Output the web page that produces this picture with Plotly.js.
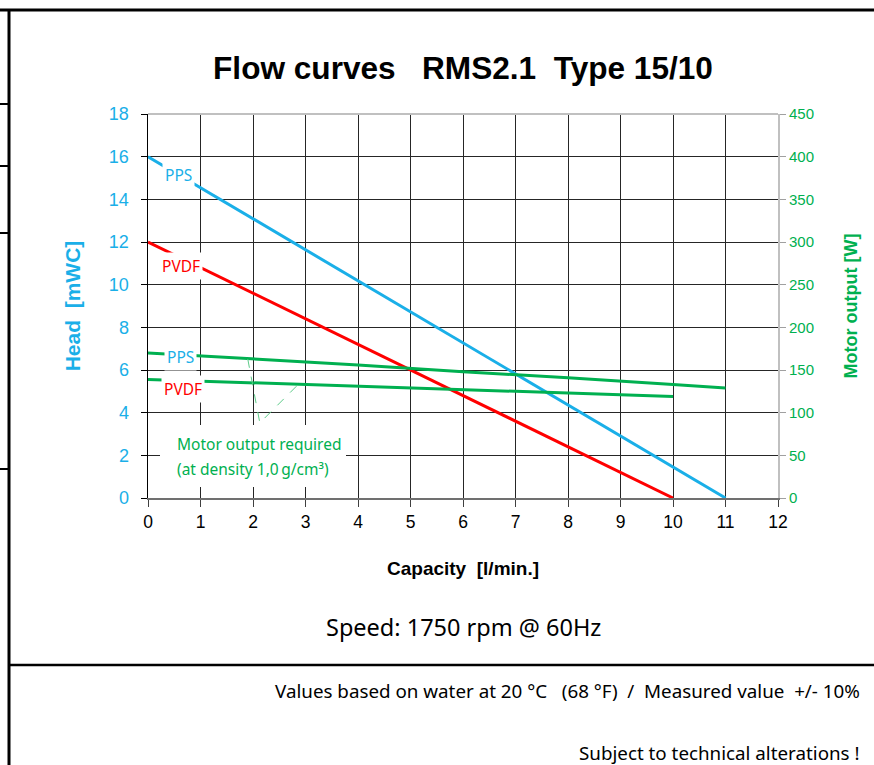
<!DOCTYPE html>
<html>
<head>
<meta charset="utf-8">
<script src="https://cdn.plot.ly/plotly-3.0.1.min.js"></script>
<style>html,body{margin:0;padding:0;background:#fff;}#chart{width:874px;height:765px;}</style>
</head>
<body>
<div id="chart"></div>
<script>
// ---- data ----
const capHeadPPS = [0, 11];
const headPPS = [16, 0];
const capHeadPVDF = [0, 10];
const headPVDF = [12, 0];
const capMotorPPS = [0, 2, 4, 6, 8, 10, 11];
const motorPPS = [170, 163, 156, 148, 141, 133, 129];
const capMotorPVDF = [0, 2, 4, 6, 8, 10];
const motorPVDF = [139, 135, 131, 127, 123, 119];
const pointerCap = [1.9, 2.13, 2.86];
const pointerMotor = [163, 88, 133];
const xTicks = [0,1,2,3,4,5,6,7,8,9,10,11,12];
const yTicks = [0,2,4,6,8,10,12,14,16,18];
const y2Ticks = [0,50,100,150,200,250,300,350,400,450];

const BLUE = '#1AAFE8', RED = '#FF0000', GREEN = '#00B050';
const ARIAL = 'Liberation Sans, Arial, sans-serif';
const CAL = 'Noto Sans, Open Sans, sans-serif';

// pixel -> paper helpers (plot area 148..778 x, 114..498 y)
const L = 148, R = 96, T = 114, B = 267, W = 874, H = 765;
const PW = W - L - R, PH = H - T - B;
const px = x => (x - L) / PW;
const py = y => (H - B - y) / PH;

const traces = [
  {x: capHeadPPS, y: headPPS, mode: 'lines', line: {color: BLUE, width: 3}, hoverinfo: 'skip', name: 'PPS head'},
  {x: capHeadPVDF, y: headPVDF, mode: 'lines', line: {color: RED, width: 3}, hoverinfo: 'skip', name: 'PVDF head'},
  {x: capMotorPPS, y: motorPPS, yaxis: 'y2', mode: 'lines', line: {color: GREEN, width: 3}, hoverinfo: 'skip', name: 'PPS motor'},
  {x: capMotorPVDF, y: motorPVDF, yaxis: 'y2', mode: 'lines', line: {color: GREEN, width: 3}, hoverinfo: 'skip', name: 'PVDF motor'},
  {x: pointerCap, y: pointerMotor, yaxis: 'y2', mode: 'lines', line: {color: '#5CCB88', width: 1, dash: 'dash'}, hoverinfo: 'skip', name: 'pointer'}
];

const border = {type: 'line', xref: 'paper', yref: 'paper', layer: 'above'};
const shapes = [
  Object.assign({}, border, {x0: px(0), x1: px(874), y0: py(10), y1: py(10), line: {color: '#000', width: 3}}),
  Object.assign({}, border, {x0: px(9), x1: px(9), y0: py(9), y1: py(766), line: {color: '#000', width: 3}}),
  Object.assign({}, border, {x0: px(0), x1: px(9), y0: py(104), y1: py(104), line: {color: '#000', width: 2}}),
  Object.assign({}, border, {x0: px(0), x1: px(9), y0: py(166), y1: py(166), line: {color: '#000', width: 2}}),
  Object.assign({}, border, {x0: px(0), x1: px(9), y0: py(233), y1: py(233), line: {color: '#000', width: 2}}),
  Object.assign({}, border, {x0: px(0), x1: px(9), y0: py(469), y1: py(469), line: {color: '#000', width: 2}}),
  Object.assign({}, border, {x0: px(9), x1: px(874), y0: py(665), y1: py(665), line: {color: '#000', width: 2.5}}),
  // light grey top frame of the plot area
  Object.assign({}, border, {x0: 0, x1: 1, y0: 1, y1: 1, line: {color: '#C0C0C0', width: 2}}),
  // white text box behind the note
  {type: 'rect', xref: 'paper', yref: 'paper', layer: 'above', x0: px(160), x1: px(346), y0: py(487), y1: py(425),
   fillcolor: '#fff', line: {width: 0}}
];

const lab = (text, x, y, color) => ({text: text, x: x, y: y, xref: 'x', yref: 'y', showarrow: false,
  font: {family: CAL, size: 15.5, color: color}, bgcolor: '#fff', borderpad: 2, xanchor: 'center', yanchor: 'middle'});

const annotations = [
  lab('PPS', 0.59, 15.15, BLUE),
  lab('PVDF', 0.63, 10.88, RED),
  lab('PPS', 0.62, 6.62, BLUE),
  lab('PVDF', 0.66, 5.12, RED),
  {text: 'Motor output required', x: px(175), y: py(444), xref: 'paper', yref: 'paper', showarrow: false,
   xanchor: 'left', yanchor: 'middle', font: {family: CAL, size: 15.5, color: GREEN}},
  {text: '(at density 1,0\u2009g/cm³)', x: px(175), y: py(469), xref: 'paper', yref: 'paper', showarrow: false,
   xanchor: 'left', yanchor: 'middle', font: {family: CAL, size: 15.5, color: GREEN}},
  {text: 'Speed: 1750 rpm @ 60Hz', x: px(463), y: py(627), xref: 'paper', yref: 'paper', showarrow: false,
   xanchor: 'center', yanchor: 'middle', font: {family: CAL, size: 23.5, color: '#000'}},
  {text: 'Values based on water at 20 °C   (68 °F)  /  Measured value  +/- 10%', x: px(862), y: py(691),
   xref: 'paper', yref: 'paper', showarrow: false, xanchor: 'right', yanchor: 'middle',
   font: {family: CAL, size: 18.8, color: '#000'}},
  {text: 'Subject to technical alterations !', x: px(862), y: py(753),
   xref: 'paper', yref: 'paper', showarrow: false, xanchor: 'right', yanchor: 'middle',
   font: {family: CAL, size: 18.8, color: '#000'}}
];

const layout = {
  width: W, height: H,
  margin: {l: L, r: R, t: T, b: B, pad: 0},
  paper_bgcolor: '#fff', plot_bgcolor: '#fff',
  showlegend: false,
  title: {text: '<b>Flow curves   RMS2.1  Type 15/10</b>', font: {family: ARIAL, size: 31.6, color: '#000'},
          x: 0.5, xref: 'paper', y: 1 - 68 / H, yref: 'container', xanchor: 'center', yanchor: 'middle'},
  xaxis: {range: [0, 12], tickvals: xTicks, ticktext: xTicks.map(String), showgrid: true, gridcolor: '#262626', gridwidth: 1,
          showline: true, linecolor: '#707070', linewidth: 2, ticks: 'outside', ticklen: 7, tickcolor: '#404040',
          tickfont: {family: ARIAL, size: 17.5, color: '#000'}, zeroline: false, fixedrange: true,
          title: {text: '<b>Capacity  [l/min.]</b>', font: {family: ARIAL, size: 19, color: '#000'}, standoff: 31}},
  yaxis: {range: [0, 18], tickvals: yTicks, ticktext: yTicks.map(String), showgrid: true, gridcolor: '#262626', gridwidth: 1,
          showline: true, linecolor: '#000', linewidth: 1.5, ticks: 'outside', ticklen: 6, tickcolor: '#000',
          ticklabelstandoff: 8,
          tickfont: {family: ARIAL, size: 18, color: BLUE}, zeroline: false, fixedrange: true,
          title: {text: '<b>Head  [mWC]</b>', font: {family: ARIAL, size: 21, color: BLUE}, standoff: 22}},
  yaxis2: {overlaying: 'y', side: 'right', range: [0, 450], tickvals: y2Ticks, ticktext: y2Ticks.map(String), showgrid: false,
           showline: true, linecolor: '#C0C0C0', linewidth: 2, ticks: 'outside', ticklen: 6, tickcolor: '#A0A0A0',
           tickfont: {family: ARIAL, size: 15, color: GREEN}, zeroline: false, fixedrange: true,
           title: {text: '<b>Motor output [W]</b>', font: {family: ARIAL, size: 18, color: GREEN}, standoff: 31}},
  shapes: shapes,
  annotations: annotations
};

Plotly.newPlot('chart', traces, layout, {displayModeBar: false, staticPlot: true});
</script>
</body>
</html>
